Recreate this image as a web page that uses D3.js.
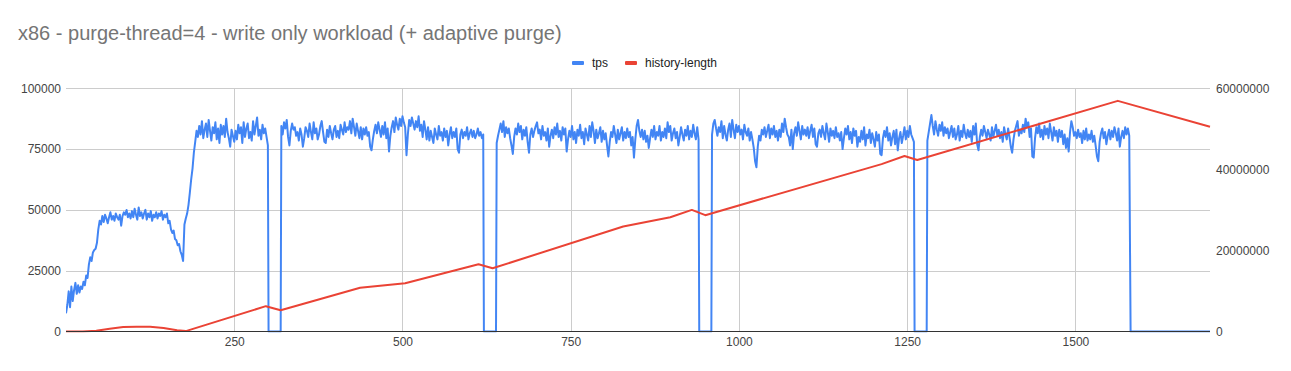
<!DOCTYPE html>
<html>
<head>
<meta charset="utf-8">
<script src="https://cdn.jsdelivr.net/npm/d3@7"></script>
<style>
  html, body { margin: 0; padding: 0; background: #fff; }
  svg { display: block; }
  text { font-family: "Liberation Sans", Arial, sans-serif; }
</style>
</head>
<body>
<svg id="chart" width="1291" height="371"></svg>
<script>
// ---------------- data ----------------
const title = "x86 - purge-thread=4 - write only workload (+ adaptive purge)";
const seriesNames = ["tps", "history-length"];

// tps sampled every 2 seconds, x = 0, 2, 4, ... 1700
const TPS_STEP = 2;
const tpsWarmup = [ // x 0..300
  7500,11000,16500,10000,18500,12500,17000,20000,15500,19000,16000,18500,17500,20500,19000,23000,22000,27500,30500,29000,
  32500,33500,34000,36500,42000,45500,
  44000,47500,45000,48000,46500,44500,47000,49000,46000,47500,45500,48500,47000,46000,48000,43500,47500,49000,48000,50000,
  47000,48500,46500,49500,47000,50500,48000,46000,51000,47500,49000,46500,48500,50000,46000,48500,47000,49500,45500,48000,
  47000,49000,46500,48500,47500,49500,46000,48000,47000,48500,
  44500,45500,42000,40500,41500,38000,37500,35500,36000,33000,31500,29000,44000,46500,48500,52000,57000,62500,67000,73500,
  78000,82500,80000,84500,81000,
  86500,79500,83000,85500,80000,87000,82500,78500,84000,81500,86000,79000,83500,77500,85000,81000,84500,80000,87500,82000,
  79500,76000,83000,80500,78000,82500,79000,85000,81500,84000,77500,86000,80000,83500,85500,79500,82000,78500,86500,81000,
  84500,88000,80500,83000,79000,85000,81500,83500,80000,76500
];
const tpsRun2 = [ // x 320..620
  84500,81000,86000,83500,87000,80000,76500,82500,85500,83000,
  84000,80500,82000,78500,83500,81000,76000,79500,84000,82500,
  80000,85500,82000,79000,86000,81500,83500,79000,81000,84500,
  86500,82000,78000,77500,83000,80000,84500,81500,79000,83000,
  84500,80000,82500,79500,85000,83000,81000,86000,82000,84000,
  83000,86500,81500,87500,84000,80500,85500,82500,79500,84000,
  79000,83500,81000,84000,80500,82000,76000,74500,79000,82500,
  85000,81500,86000,83000,80000,84500,81000,86000,79500,83500,
  74000,80500,84000,86500,82000,88000,85000,83000,87500,84500,
  88500,86000,84000,72500,81000,87000,84500,88000,85500,83000,
  86500,84000,88500,82500,85000,80000,86500,83000,79000,84000,
  78500,82500,80000,77500,83500,81000,79000,84500,80500,82000,
  78500,83500,80000,82500,76500,81000,84000,79500,82000,80000,
  83500,75000,73500,81000,83000,79500,82000,80500,84000,79000,
  81500,83000,80000,82500,79500,81000,83500,80500,82000,79500,
  81000
];
const tpsRun3 = [ // x 640..940
  77500,80500,83000,85500,82000,86500,80000,84000,81500,83500,
  79500,76500,73000,80000,83500,81000,85500,82000,84500,79000,
  83000,80500,84000,78000,73500,81000,83500,80000,82500,84500,
  86000,81500,83000,79000,84500,80500,82000,78500,83500,76000,
  80500,83000,79500,84000,81000,85500,80000,82500,78500,84000,
  81000,83500,74000,79000,82500,80000,84500,79000,82000,77500,
  83000,80500,85000,79500,82000,77000,83500,81000,78500,84500,
  80000,86000,82500,77500,83000,79500,81500,84000,78000,82500,
  79000,81500,76500,72000,78000,82000,80000,84500,81000,77500,
  83000,79000,81500,84000,78500,82000,79500,83500,80000,82000,
  76500,80000,71500,79000,84500,87000,82500,80000,83000,79000,
  82500,78000,80500,75500,79500,83000,80000,84500,79000,82000,
  80500,84500,78500,82000,80000,83500,79500,86000,82000,84500,
  78500,81500,83500,79500,82000,76500,80000,84000,81000,78500,
  83000,80500,84500,79000,82500,80000,85000,81500,79000,84000,
  79000
];
const tpsRun4 = [ // x 960..1260
  81000,85500,87000,83500,80500,84000,82000,86500,79500,84500,
  81000,78500,83000,85500,80000,87000,83000,79500,85000,82000,
  84500,81000,83000,79000,85000,82000,80500,83500,78500,82000,
  79000,75500,70000,67500,76000,80500,78500,83000,81000,84000,
  80000,82500,85000,79500,83500,81000,84500,80000,82500,78500,
  83000,80000,85500,82000,87500,84000,81000,80000,76500,83000,
  75000,81500,84000,80500,86000,82500,79000,84500,81000,83000,
  80500,84000,79500,82500,85000,80000,83500,77000,76000,81500,
  83000,80000,84500,81500,79000,85500,82000,78000,83500,80500,
  82500,79500,84000,80000,81500,78500,82000,75000,79500,83500,
  81000,84500,79000,82000,77500,83500,80500,82500,76000,80000,
  78000,82500,79000,84000,76500,81000,79500,83000,77500,81500,
  79000,76000,82000,78500,81000,73000,72500,79500,82500,80000,
  84000,78500,81500,76500,80000,82500,77000,83000,74500,79500,
  82000,77500,80500,84000,79000,82500,80000,84500,81000,79500,
  78000
];
const tpsRun5 = [ // x 1280..1580
  78500,82000,85500,89000,84500,81000,86500,83000,80500,85000,
  82500,86000,80500,84000,81500,83500,79500,82000,84500,80000,
  83500,79000,81000,84500,78500,82500,80000,85000,81500,79500,
  83000,80000,82500,78000,84500,81000,85500,77000,74500,80000,
  83000,80500,84500,82000,79500,83000,81000,78500,84000,80000,
  82500,85000,80500,83000,79500,82000,78000,84000,81000,79000,
  83500,80000,76000,73500,79000,82500,84500,86500,80500,83000,
  81500,85000,82000,87500,84000,86000,80000,83500,72000,71500,
  79500,84000,81500,85500,80000,83000,79000,84500,81000,83500,
  79500,85500,82000,78500,84000,80500,82500,78000,83000,80000,
  82500,77000,81000,75500,79500,74000,82000,86500,84000,80500,
  82000,79500,83000,80000,81500,77500,82500,79000,83500,78500,
  81000,79000,82500,78000,80500,76500,72000,70000,78000,81500,
  83500,79500,82000,77000,80500,83000,79000,82500,80000,84000,
  81500,78500,83500,76000,80000,82500,79500,84000,81000,83500,
  80500
];
// intervals (seconds) during which tps is 0
const outages = [[301, 319], [621, 639], [941, 959], [1261, 1279], [1582, 1700]];
// first second of each tps run
const runStarts = [0, 320, 640, 960, 1280];

// history-length readings
const historyX = [0, 25, 45, 65, 85, 105, 125, 145, 165, 178, 297, 319, 437, 504, 613, 634, 828, 898, 930, 950, 1212, 1246, 1265, 1563, 1700];
const historyY = [0, 0, 200000, 700000, 1100000, 1200000, 1150000, 850000, 300000, 100000,
  6250000, 5250000, 10800000, 11900000, 16600000, 15600000, 25900000, 28200000, 30000000, 28700000,
  41300000, 43300000, 42300000, 56900000, 50500000];

const xTicks = [250, 500, 750, 1000, 1250, 1500];
const leftTicks = [0, 25000, 50000, 75000, 100000];
const rightTicks = [0, 20000000, 40000000, 60000000];

// ---------------- chart ----------------
const svg = d3.select("#chart");
const colors = { tps: "#4285f4", hist: "#ea4335" };
const plot = { left: 66, right: 1210, top: 88.3, bottom: 331.5 };

const x = d3.scaleLinear().domain([0, 1700]).range([plot.left, plot.right]);
const yL = d3.scaleLinear().domain([0, 100000]).range([plot.bottom, plot.top]);
const yR = d3.scaleLinear().domain([0, 60000000]).range([plot.bottom, plot.top]);

// title
svg.append("text").attr("x", 18).attr("y", 40)
  .attr("fill", "#757575").attr("font-size", 20).text(title);

// legend
const legend = svg.append("g");
const legItems = [
  { name: seriesNames[0], color: colors.tps, x: 572 },
  { name: seriesNames[1], color: colors.hist, x: 625 }
];
legItems.forEach(d => {
  legend.append("rect").attr("x", d.x).attr("y", 61).attr("width", 12).attr("height", 4)
    .attr("rx", 1).attr("fill", d.color);
  legend.append("text").attr("x", d.x + 20).attr("y", 67).attr("font-size", 12)
    .attr("fill", "#222").text(d.name);
});

// gridlines
const grid = svg.append("g");
grid.selectAll("line.h").data(leftTicks.filter(t => t > 0)).join("line")
  .attr("x1", plot.left).attr("x2", plot.right)
  .attr("y1", d => Math.round(yL(d)) + 0.5).attr("y2", d => Math.round(yL(d)) + 0.5)
  .attr("stroke", "#cccccc").attr("stroke-width", 1);
grid.selectAll("line.v").data(xTicks).join("line")
  .attr("x1", d => Math.round(x(d)) + 0.5).attr("x2", d => Math.round(x(d)) + 0.5)
  .attr("y1", plot.top).attr("y2", plot.bottom)
  .attr("stroke", "#cccccc").attr("stroke-width", 1);

// axes (labels via d3 axes, domain lines hidden)
const fmt = d3.format("d");
const leftAxis = svg.append("g").attr("transform", `translate(${plot.left - 5},0)`)
  .call(d3.axisLeft(yL).tickValues(leftTicks).tickFormat(fmt).tickSize(0).tickPadding(0));
const rightAxis = svg.append("g").attr("transform", `translate(${plot.right + 6},0)`)
  .call(d3.axisRight(yR).tickValues(rightTicks).tickFormat(fmt).tickSize(0).tickPadding(0));
const bottomAxis = svg.append("g").attr("transform", `translate(0,${plot.bottom + 4})`)
  .call(d3.axisBottom(x).tickValues(xTicks).tickFormat(fmt).tickSize(0).tickPadding(0));
[leftAxis, rightAxis, bottomAxis].forEach(g => {
  g.select(".domain").remove();
  g.selectAll("text").attr("font-size", 12).attr("fill", "#444")
    .style("font-family", "'Liberation Sans', Arial, sans-serif");
});
bottomAxis.selectAll("text").attr("dy", "0.71em").attr("y", 2);

// tps line: runs of samples joined by zero-valued outage intervals
const tpsRuns = [tpsWarmup, tpsRun2, tpsRun3, tpsRun4, tpsRun5];
const tpsPts = [];
tpsRuns.forEach((run, r) => run.forEach((v, i) => tpsPts.push([runStarts[r] + i * TPS_STEP, v])));
outages.forEach(([a, b]) => { tpsPts.push([a, 0]); tpsPts.push([b, 0]); });
tpsPts.sort((p, q) => p[0] - q[0]);

svg.append("clipPath").attr("id", "clip").append("rect")
  .attr("x", plot.left).attr("y", plot.top - 10)
  .attr("width", plot.right - plot.left + 1).attr("height", plot.bottom - plot.top + 11);

svg.append("path").datum(tpsPts)
  .attr("clip-path", "url(#clip)")
  .attr("fill", "none").attr("stroke", colors.tps).attr("stroke-width", 2)
  .attr("stroke-linejoin", "round")
  .attr("d", d3.line().x(d => x(d[0])).y(d => yL(d[1])));

// history-length line
const histPts = historyX.map((t, i) => [t, historyY[i]]);
svg.append("path").datum(histPts)
  .attr("clip-path", "url(#clip)")
  .attr("fill", "none").attr("stroke", colors.hist).attr("stroke-width", 2)
  .attr("stroke-linejoin", "round")
  .attr("d", d3.line().x(d => x(d[0])).y(d => yR(d[1])));

// baseline axis
svg.append("line").attr("x1", plot.left).attr("x2", plot.right)
  .attr("y1", plot.bottom).attr("y2", plot.bottom)
  .attr("stroke", "#333").attr("stroke-width", 1);
</script>
</body>
</html>
